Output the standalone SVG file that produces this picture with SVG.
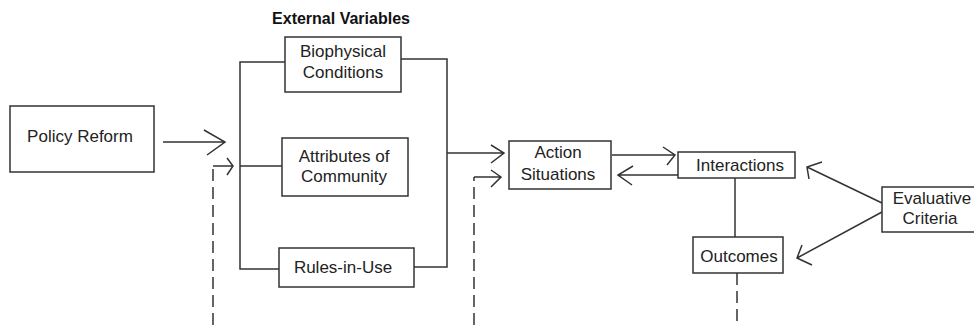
<svg xmlns="http://www.w3.org/2000/svg" width="974" height="325" viewBox="0 0 974 325">
<style>
.box{fill:#fff;stroke:#333;stroke-width:1.5}
.t{font-family:"Liberation Sans",Arial,sans-serif;font-size:17px;fill:#222;text-anchor:middle}
.h{font-family:"Liberation Sans",Arial,sans-serif;font-size:16px;font-weight:bold;fill:#111;text-anchor:middle}
.ln{fill:none;stroke:#333;stroke-width:1.5}
.dash{fill:none;stroke:#333;stroke-width:1.5;stroke-dasharray:12 6}
</style>
<rect width="974" height="325" fill="#fff"/>
<text class="h" x="341" y="24">External Variables</text>
<g id="connectors">
<path class="ln" d="M163 142 H225 M204 130 L225 142 L207 155"/>
<path class="dash" d="M213 325 V166"/>
<path class="ln" d="M213 166 H232 M227 158 L233 166 L227 175"/>
<path class="ln" d="M285 62 H240 V269 H279 M240 166 H282"/>
<path class="ln" d="M401 59 H447 V267 H414 M447 153 H504 M491 145 L504 153 L491 163"/>
<path class="dash" d="M474 325 V177"/>
<path class="ln" d="M474 177 H501 M491 170 L501 177 L491 187"/>
<path class="ln" d="M612 155 H675 M663 147 L675 155 L667 165"/>
<path class="ln" d="M678 175 H618 M633 166 L618 175 L632 185"/>
<path class="ln" d="M735 178 V237"/>
<path class="dash" d="M737 273 V325"/>
<path class="ln" d="M882 203 L807 167 M822 162 L807 167 L809 179"/>
<path class="ln" d="M882 212 L797 258 M802 245 L797 258 L812 265"/>
</g>
<g id="policy-reform"><rect class="box" x="10" y="106" width="144" height="66"/><text class="t" x="80" y="142">Policy Reform</text></g>
<g id="biophysical"><rect class="box" x="285" y="37" width="116" height="55"/><text class="t" x="343" y="57">Biophysical</text><text class="t" x="343" y="78">Conditions</text></g>
<g id="attributes"><rect class="box" x="282" y="138" width="126" height="58"/><text class="t" x="344" y="162">Attributes of</text><text class="t" x="344" y="182">Community</text></g>
<g id="rules"><rect class="box" x="279" y="248" width="135" height="39"/><text class="t" x="343" y="273">Rules-in-Use</text></g>
<g id="action-situations"><rect class="box" x="509" y="141" width="102" height="48"/><text class="t" x="558" y="158">Action</text><text class="t" x="558" y="180">Situations</text></g>
<g id="interactions"><rect class="box" x="678" y="152" width="117" height="26"/><text class="t" x="740" y="171">Interactions</text></g>
<g id="outcomes"><rect class="box" x="693" y="237" width="90" height="36"/><text class="t" x="739" y="262">Outcomes</text></g>
<g id="evaluative-criteria"><rect class="box" x="882" y="187" width="100" height="45"/><text class="t" x="932" y="204">Evaluative</text><text class="t" x="930" y="224">Criteria</text></g>
</svg>
